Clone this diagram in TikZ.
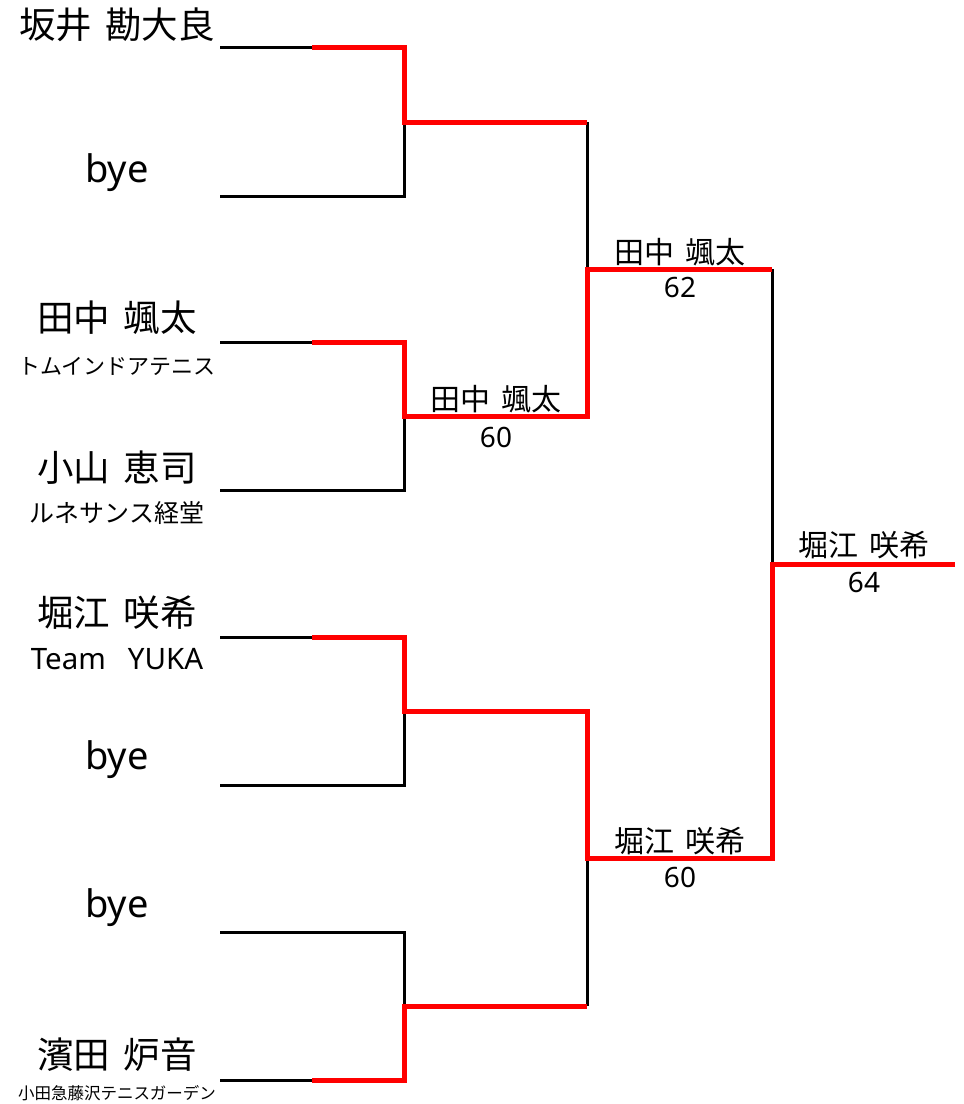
\documentclass[tikz,border=0pt]{standalone}
\usepackage{fontspec}
\setmainfont{Noto Sans}
\newfontfamily\cjk{Noto Sans CJK JP}[WordSpace=1.6]
\begin{document}
\begin{tikzpicture}[x=1pt,y=-1pt,
  every node/.style={inner sep=0pt,outer sep=0pt,anchor=center},
  bigname/.style={font=\cjk\fontsize{36.5}{40}\selectfont},
  byetext/.style={font=\fontsize{38}{42}\selectfont},
  club/.style={font=\cjk\fontsize{#1}{#1}\selectfont},
  teamtext/.style={font=\fontsize{29.5}{32}\selectfont},
  winname/.style={font=\cjk\fontsize{30}{34}\selectfont},
  score/.style={font=\fontsize{28}{32}\selectfont},
  blackline/.style={line width=3pt,black,line join=miter},
  redline/.style={line width=5pt,red,line join=miter}]
\useasboundingbox (0,0) rectangle (964,1104);
\fill[white] (0,0) rectangle (964,1104);

% slot start points
\coordinate (s1) at (220,47);
\coordinate (s2) at (220,196);
\coordinate (s3) at (220,342);
\coordinate (s4) at (220,490);
\coordinate (s5) at (220,637);
\coordinate (s6) at (220,785);
\coordinate (s7) at (220,932);
\coordinate (s8) at (220,1080);
% red starts
\coordinate (h1) at (312,47);
\coordinate (h3) at (312,342);
\coordinate (h5) at (312,637);
\coordinate (h8) at (312,1080);
% round 1 verticals
\coordinate (a1) at (404,47);
\coordinate (a2) at (404,196);
\coordinate (a3) at (404,342);
\coordinate (a4) at (404,490);
\coordinate (a5) at (404,637);
\coordinate (a6) at (404,785);
\coordinate (a7) at (404,932);
\coordinate (a8) at (404,1080);
\coordinate (m1) at (404,122);
\coordinate (m2) at (404,416);
\coordinate (m3) at (404,711);
\coordinate (m4) at (404,1006);
% round 2
\coordinate (b1) at (587,122);
\coordinate (b2) at (587,416);
\coordinate (b3) at (587,711);
\coordinate (b4) at (587,1006);
\coordinate (mA) at (587,269);
\coordinate (mB) at (587,858);
% final
\coordinate (c1) at (772,269);
\coordinate (c2) at (772,858);
\coordinate (mF) at (772,564);
\coordinate (win) at (955,564);

% black lines
\draw[blackline] (s1) -- (h1);
\draw[blackline] (s2) -- (a2) -- (m1);
\draw[blackline] (s3) -- (h3);
\draw[blackline] (s4) -- (a4) -- (m2);
\draw[blackline] (s5) -- (h5);
\draw[blackline] (s6) -- (a6) -- (m3);
\draw[blackline] (s7) -- (a7) -- (m4);
\draw[blackline] (s8) -- (h8);
\draw[blackline] (b1) -- (mA);
\draw[blackline] (mB) -- (b4);
\draw[blackline] (c1) -- (mF);

% red winner paths
\draw[redline] (h1) -- (a1) -- (m1) -- (b1);
\draw[redline] (h3) -- (a3) -- (m2) -- (b2) -- (mA) -- (c1);
\draw[redline] (h5) -- (a5) -- (m3) -- (b3) -- (mB) -- (c2) -- (mF) -- (win);
\draw[redline] (h8) -- (a8) -- (m4) -- (b4);

% player names
\node[bigname] (n1) at (117,25) {坂井 勘大良};
\node[byetext] (n2) at (117,173) {bye};
\node[bigname] (n3) at (117,318) {田中 颯太};
\node[club=22] (c3) at (117,366) {トムインドアテニス};
\node[bigname] (n4) at (117,468) {小山 恵司};
\node[club=25] (c4) at (117,513) {ルネサンス経堂};
\node[bigname] (n5) at (117,613) {堀江 咲希};
\node[teamtext] (c5) at (117,659) {Team{\cjk\fontsize{22}{22}\selectfont　}YUKA};
\node[byetext] (n6) at (117,760) {bye};
\node[byetext] (n7) at (117,908) {bye};
\node[bigname] (n8) at (117,1055) {濱田 炉音};
\node[club=16.5] (c8) at (117,1093) {小田急藤沢テニスガーデン};

% winners and scores
\node[winname] (w2) at (496,399) {田中 颯太};
\node[score] (sc2) at (496,437) {60};
\node[winname] (wA) at (680,252) {田中 颯太};
\node[score] (scA) at (680,287) {62};
\node[winname] (wB) at (680,841) {堀江 咲希};
\node[score] (scB) at (680,877) {60};
\node[winname] (wF) at (864,545) {堀江 咲希};
\node[score] (scF) at (864,582) {64};
\end{tikzpicture}
\end{document}
